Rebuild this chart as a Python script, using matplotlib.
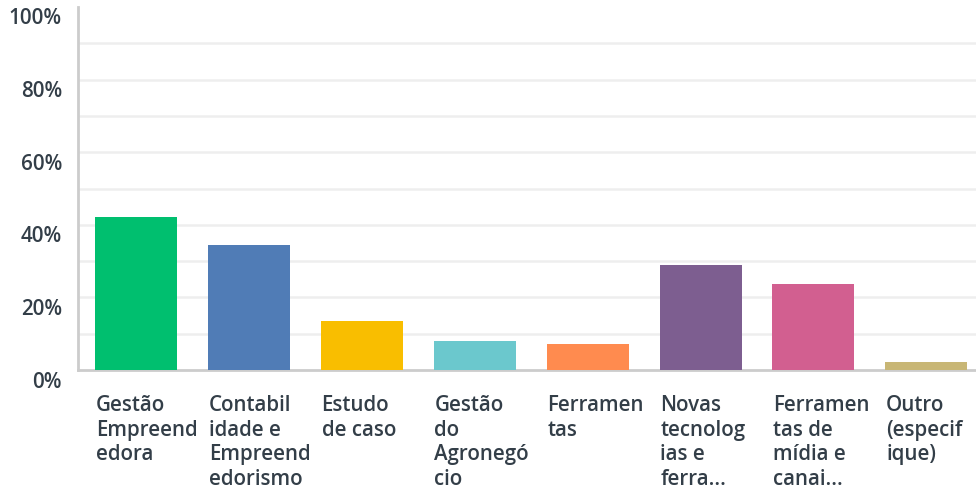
import matplotlib
matplotlib.use("Agg")
import matplotlib.pyplot as plt
from matplotlib.transforms import ScaledTranslation
import numpy as np

categories = ["Gestão\nEmpreend\nedora", "Contabil\nidade e\nEmpreend\nedorismo", "Estudo\nde caso",
              "Gestão\ndo\nAgronegó\ncio", "Ferramen\ntas", "Novas\ntecnolog\nias e\nferra...",
              "Ferramen\ntas de\nmídia e\ncanai...", "Outro\n(especif\nique)"]
values = [42.2, 34.4, 13.5, 8.0, 7.2, 28.9, 23.7, 2.2]
colors = ["#00bf6f", "#507cb6", "#f9be00", "#6bc8cd", "#ff8b4f", "#7d5e90", "#d25f90", "#c8b675"]
yticks = [0, 20, 40, 60, 80, 100]
ytick_labels = ["0%", "20%", "40%", "60%", "80%", "100%"]

text_color = "#333e48"
font = "Open Sans"

fig = plt.figure(figsize=(9.76, 4.91), dpi=100)
ax = fig.add_axes([78/976, 1 - 370/491, 1 - 78/976, 363/491])

x = np.arange(len(categories))
bw = 0.726
ax.bar(x, values, width=bw, color=colors, zorder=3)

ax.set_xlim(-0.514, 7.44)
ax.set_ylim(0, 100)
ax.set_yticks(yticks)
ax.set_yticklabels(ytick_labels, fontsize=14.8, color=text_color, family=font, fontweight="semibold")
ax.tick_params(axis="y", which="both", length=0, pad=11.5)
ax.set_xticks([])

for yv in list(range(10, 100, 10)):
    ax.axhline(yv, color="#eeeeee", lw=1.8, zorder=1)

offset = ScaledTranslation(0, -9.5/100, fig.dpi_scale_trans)
for lbl in ax.get_yticklabels():
    lbl.set_transform(lbl.get_transform() + offset)

for s in ["top", "right"]:
    ax.spines[s].set_visible(False)
for s in ["left", "bottom"]:
    ax.spines[s].set_color("#cccccc")
    ax.spines[s].set_linewidth(2)

for i, lab in enumerate(categories):
    ax.annotate(lab, xy=(i - bw/2, 0), xycoords="data", xytext=(0.5, -18), textcoords="offset points",
                ha="left", va="top", fontsize=14.8, color=text_color, family=font,
                fontweight="semibold", linespacing=1.22, annotation_clip=False)

fig.savefig("out.png", dpi=100)
